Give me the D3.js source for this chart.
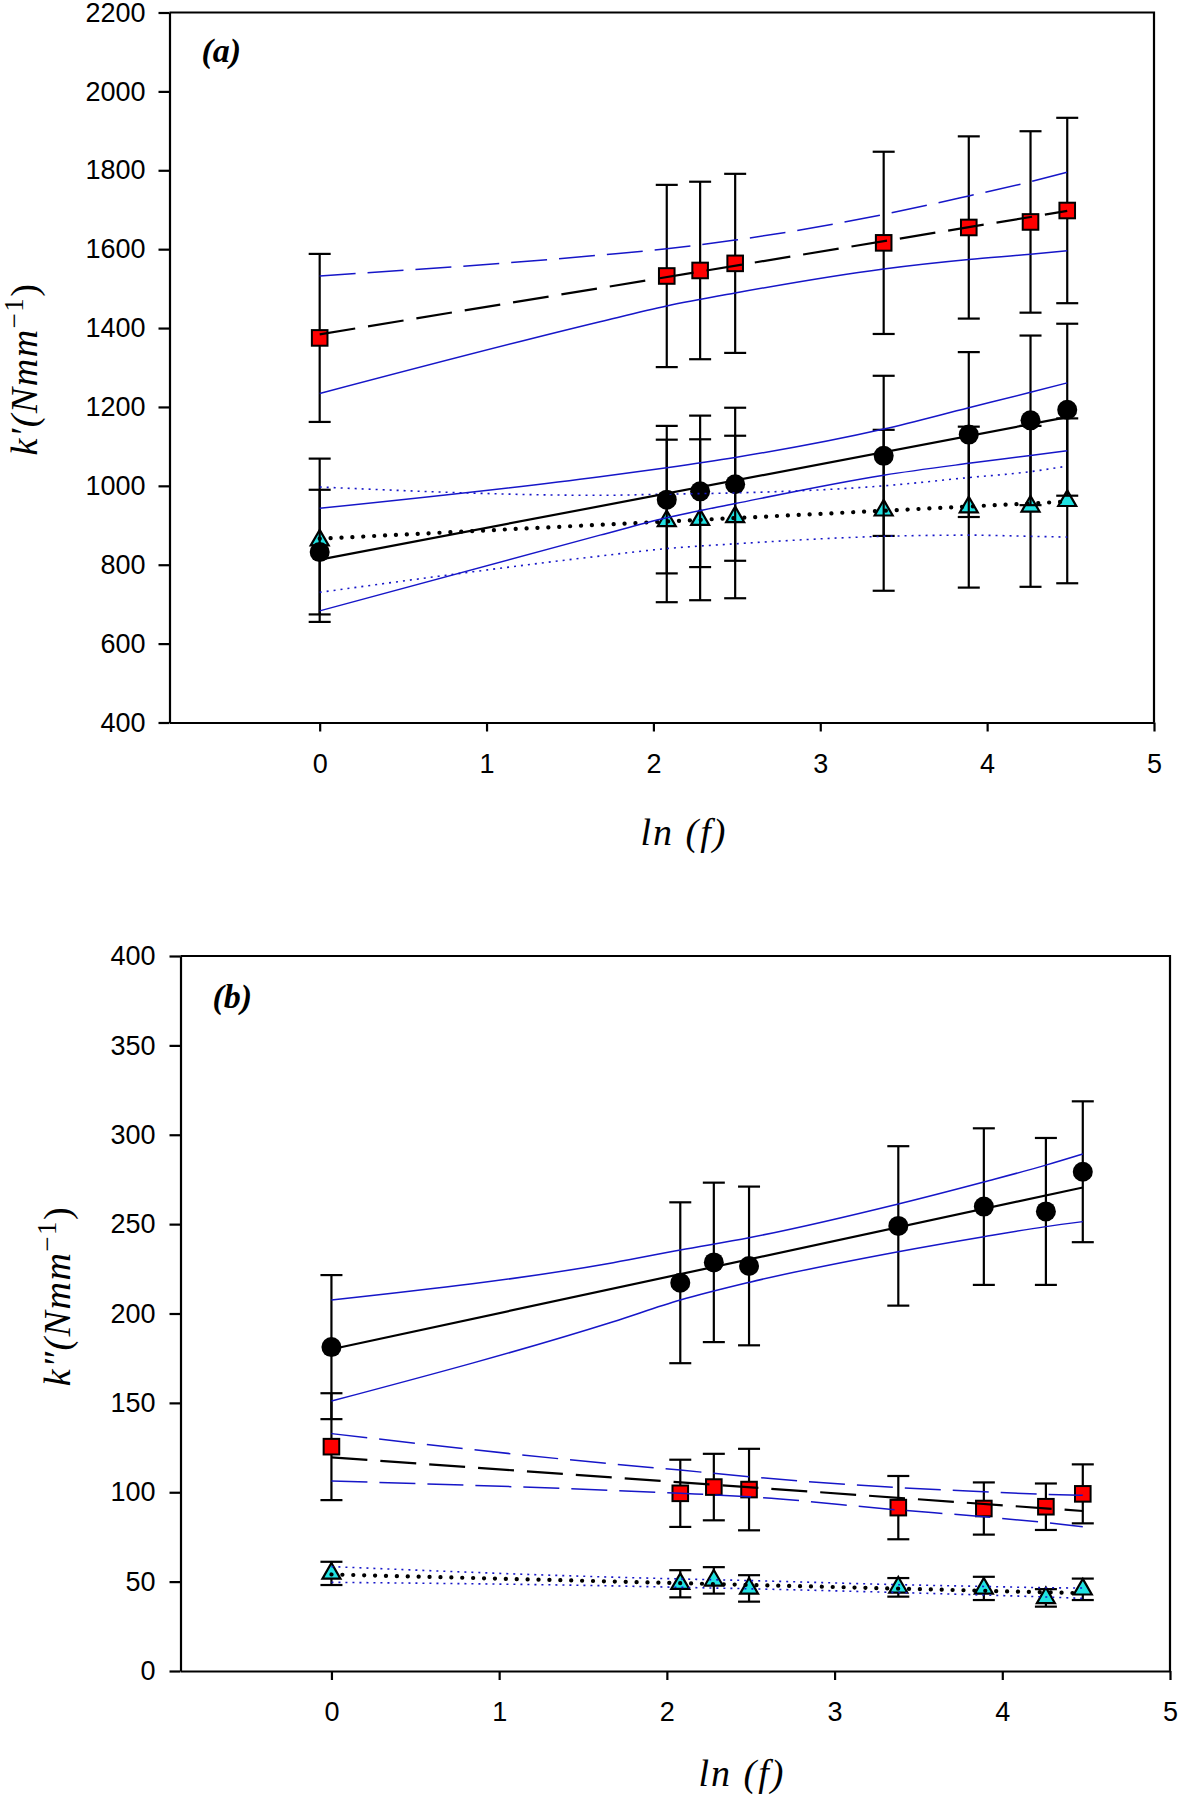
<!DOCTYPE html>
<html>
<head>
<meta charset="utf-8">
<script src="https://cdn.jsdelivr.net/npm/d3@7"></script>
<style>
  body { margin: 0; background: #fff; }
  text { fill: #000; }
</style>
</head>
<body>
<svg id="chart" width="1184" height="1796"></svg>
<script>
// frequencies as ln(f), shared by both panels
var lnF = [0, 2.08, 2.28, 2.49, 3.38, 3.89, 4.26, 4.48];
var bandX = [0, 1.68, 2.08, 2.49, 3.38, 3.89, 4.26, 4.48];
var fitX = [0, 4.48];
var xTicks = [0, 1, 2, 3, 4, 5];

// panel (a): k'
var aSquare = [1375, 1532, 1546, 1564, 1616, 1655, 1669, 1698];
var aSquareErr = [213, 231, 225, 227, 231, 231, 230, 235];
var aCircle = [832, 965, 986, 1004, 1076, 1130, 1166, 1193];
var aCircleErr = [158, 187, 192, 194, 203, 209, 215, 218];
var aTri = [862, 911, 914, 921, 938, 946, 948, 962];
var aTriErr = [207, 206, 204, 206, 204, 204, 204, 209];
var aSquareFit = [1384, 1697];
var aSquareUp = [1532, 1585, 1601, 1623, 1688, 1735, 1771, 1795];
var aSquareLo = [1234, 1416, 1456, 1489, 1550, 1574, 1587, 1596];
var aCircleFit = [813, 1174];
var aCircleUp = [943, 1023, 1046, 1072, 1144, 1198, 1237, 1261];
var aCircleLo = [683, 875, 919, 955, 1027, 1057, 1077, 1089];
var aTriFit = [866, 960];
var aTriUp = [997, 976, 979, 982, 1000, 1021, 1036, 1050];
var aTriLo = [730, 822, 841, 853, 872, 875, 872, 870];
var aTicks = [400, 600, 800, 1000, 1200, 1400, 1600, 1800, 2000, 2200];

// panel (b): k''
var bCircle = [181.2, 217.2, 228.6, 226.6, 249, 259.8, 257.1, 279.3];
var bCircleErr = [40.3, 45, 44.6, 44.4, 44.6, 43.8, 41.1, 39.4];
var bSquare = [125.5, 99.4, 102.9, 101.5, 91.4, 90.9, 91.9, 99.1];
var bSquareErr = [29.9, 18.8, 18.6, 22.8, 17.7, 14.6, 13, 16.5];
var bTri = [54.6, 48.8, 50.7, 46.2, 46.8, 46.2, 40.9, 45.7];
var bTriErr = [6.5, 7.6, 7.4, 7.4, 5.2, 6.5, 4.9, 6];
var bCircleFit = [180, 270.5];
var bCircleUp = [207.5, 228.4, 235.5, 242.4, 261.3, 273.6, 283, 289.2];
var bCircleLo = [151, 195.4, 207.5, 217.4, 234.6, 243, 248.6, 251.4];
var bSquareFit = [119.5, 89.5];
var bSquareUp = [132.8, 115.8, 112.4, 108.7, 102.6, 100.3, 98.8, 98.3];
var bSquareLo = [106.3, 101.0, 99.4, 97.5, 90.1, 86.3, 83, 80.7];
var bTriFit = [54, 43.5];
var bTriUp = [58.4, 52.5, 51.5, 50.6, 48.3, 47.3, 46.6, 46.4];
var bTriLo = [49.6, 47.6, 46.8, 46.0, 43.9, 42.5, 41.4, 40.6];
var bTicks = [0, 50, 100, 150, 200, 250, 300, 350, 400];

var blue = "#1616c8";
var styles = {
  solid: {stroke: "#000", width: 2.2, dash: null},
  dash:  {stroke: "#000", width: 2.2, dash: "36 13"},
  dot:   {stroke: "#000", width: 4.2, dash: "0.1 10.8", cap: "round"},
  bSolid: {stroke: blue, width: 1.5, dash: null},
  bDash:  {stroke: blue, width: 1.5, dash: "36 12"},
  bDot:   {stroke: blue, width: 1.6, dash: "2 5"}
};

var svg = d3.select("#chart");

function drawPanel(p) {
  var x = d3.scaleLinear().domain([-0.9, 5]).range([p.left, p.right]);
  var y = d3.scaleLinear().domain(p.yDomain).range([p.bottom, p.top]);
  var g = svg.append("g");

  // box: top and right edges
  g.append("path")
    .attr("d", "M" + x(-0.9) + "," + y(p.yDomain[1]) + "H" + x(5) + "V" + y(p.yDomain[0]))
    .attr("fill", "none").attr("stroke", "#000").attr("stroke-width", 2.2);

  var yAxis = g.append("g").attr("transform", "translate(" + p.left + ",0)")
    .call(d3.axisLeft(y).tickValues(p.ticks).tickFormat(d3.format("d"))
      .tickSize(11).tickPadding(p.yPad).tickSizeOuter(0));
  var xAxis = g.append("g").attr("transform", "translate(0," + p.bottom + ")")
    .call(d3.axisBottom(x).tickValues(xTicks).tickFormat(d3.format("d"))
      .tickSize(9).tickPadding(22).tickSizeOuter(0));
  [yAxis, xAxis].forEach(function(a) {
    a.select(".domain").attr("stroke-width", 2.2);
    a.selectAll(".tick line").attr("stroke-width", 2.2);
    a.selectAll("text").style("font-family", "'Liberation Sans', Arial, sans-serif")
      .style("font-size", "27px").attr("fill", "#000");
  });

  // error bars and markers, back to front
  p.series.forEach(function(s) {
    var pts = lnF.map(function(v, i) { return {x: v, y: s.values[i], e: s.err[i]}; });
    var eb = g.append("g").attr("stroke", "#000").attr("stroke-width", 2.2);
    pts.forEach(function(d) {
      eb.append("line").attr("x1", x(d.x)).attr("x2", x(d.x))
        .attr("y1", y(d.y - d.e)).attr("y2", y(d.y + d.e));
      [d.y - d.e, d.y + d.e].forEach(function(v) {
        eb.append("line").attr("x1", x(d.x) - 11).attr("x2", x(d.x) + 11)
          .attr("y1", y(v)).attr("y2", y(v));
      });
    });
    var mk = g.append("g");
    pts.forEach(function(d) {
      var cx = x(d.x), cy = y(d.y);
      if (s.marker === "circle") {
        mk.append("circle").attr("cx", cx).attr("cy", cy).attr("r", 10).attr("fill", "#000");
      } else if (s.marker === "square") {
        mk.append("rect").attr("x", cx - 7.8).attr("y", cy - 7.8).attr("width", 15.6).attr("height", 15.6)
          .attr("fill", "#ff0000").attr("stroke", "#000").attr("stroke-width", 2);
      } else {
        mk.append("path").attr("transform", "translate(" + cx + "," + cy + ")")
          .attr("d", "M0,-10.4L9,5.2L-9,5.2Z")
          .attr("fill", "#20e2e2").attr("stroke", "#000").attr("stroke-width", 2.2)
          .attr("stroke-linejoin", "miter");
      }
    });
  });

  // confidence bands and regression lines on top
  var band = d3.line().x(function(d) { return x(d[0]); }).y(function(d) { return y(d[1]); })
    .curve(d3.curveMonotoneX);
  function stroke(sel, st) {
    sel.attr("fill", "none").attr("stroke", st.stroke).attr("stroke-width", st.width);
    if (st.dash) sel.attr("stroke-dasharray", st.dash);
    if (st.cap) sel.attr("stroke-linecap", st.cap);
  }
  p.series.forEach(function(s) {
    stroke(g.append("path").attr("d", band(d3.zip(bandX, s.up))), styles[s.upStyle]);
    stroke(g.append("path").attr("d", band(d3.zip(bandX, s.lo))), styles[s.loStyle]);
    stroke(g.append("path").attr("d", band(d3.zip(fitX, s.fit))), styles[s.fitStyle]);
  });

  // panel letter
  g.append("text").attr("x", p.left + 32).attr("y", p.top + p.letterDy)
    .style("font-family", "'Liberation Serif', 'Times New Roman', serif")
    .style("font-style", "italic").style("font-weight", "bold").style("font-size", "34px")
    .text(p.letter);

  // axis titles
  var xt = g.append("text").attr("x", p.xTitle[0]).attr("y", p.xTitle[1]).attr("text-anchor", "middle")
    .style("font-family", "'Liberation Serif', 'Times New Roman', serif")
    .style("font-style", "italic").style("font-size", "38px").style("letter-spacing", "2px");
  xt.text("ln (f)");

  var yt = g.append("text").attr("text-anchor", "middle")
    .attr("transform", "translate(" + p.yTitle[0] + "," + p.yTitle[1] + ") rotate(-90)")
    .style("font-family", "'Liberation Serif', 'Times New Roman', serif")
    .style("font-style", "italic").style("font-size", "38px").style("letter-spacing", "1.5px");
  yt.append("tspan").text("k" + p.prime + "(Nmm");
  yt.append("tspan").attr("dy", -14).style("font-size", "27px").style("font-style", "normal").text("\u22121");
  yt.append("tspan").attr("dy", 14).style("font-style", "normal").text(")");
}

drawPanel({
  left: 169.5, right: 1154, top: 12.5, bottom: 722.5,
  yDomain: [400, 2200], ticks: aTicks, yPad: 13,
  letter: "(a)", letterDy: 49, prime: "\u2032",
  xTitle: [684, 845], yTitle: [37, 369],
  series: [
    {marker: "tri", values: aTri, err: aTriErr, fit: aTriFit, up: aTriUp, lo: aTriLo,
     fitStyle: "dot", upStyle: "bDot", loStyle: "bDot"},
    {marker: "circle", values: aCircle, err: aCircleErr, fit: aCircleFit, up: aCircleUp, lo: aCircleLo,
     fitStyle: "solid", upStyle: "bSolid", loStyle: "bSolid"},
    {marker: "square", values: aSquare, err: aSquareErr, fit: aSquareFit, up: aSquareUp, lo: aSquareLo,
     fitStyle: "dash", upStyle: "bDash", loStyle: "bSolid"}
  ]
});

drawPanel({
  left: 180.5, right: 1170, top: 956, bottom: 1671,
  yDomain: [0, 400], ticks: bTicks, yPad: 14,
  letter: "(b)", letterDy: 52, prime: "\u2033",
  xTitle: [742, 1786], yTitle: [70, 1296],
  series: [
    {marker: "tri", values: bTri, err: bTriErr, fit: bTriFit, up: bTriUp, lo: bTriLo,
     fitStyle: "dot", upStyle: "bDot", loStyle: "bDot"},
    {marker: "square", values: bSquare, err: bSquareErr, fit: bSquareFit, up: bSquareUp, lo: bSquareLo,
     fitStyle: "dash", upStyle: "bDash", loStyle: "bDash"},
    {marker: "circle", values: bCircle, err: bCircleErr, fit: bCircleFit, up: bCircleUp, lo: bCircleLo,
     fitStyle: "solid", upStyle: "bSolid", loStyle: "bSolid"}
  ]
});
</script>
</body>
</html>
